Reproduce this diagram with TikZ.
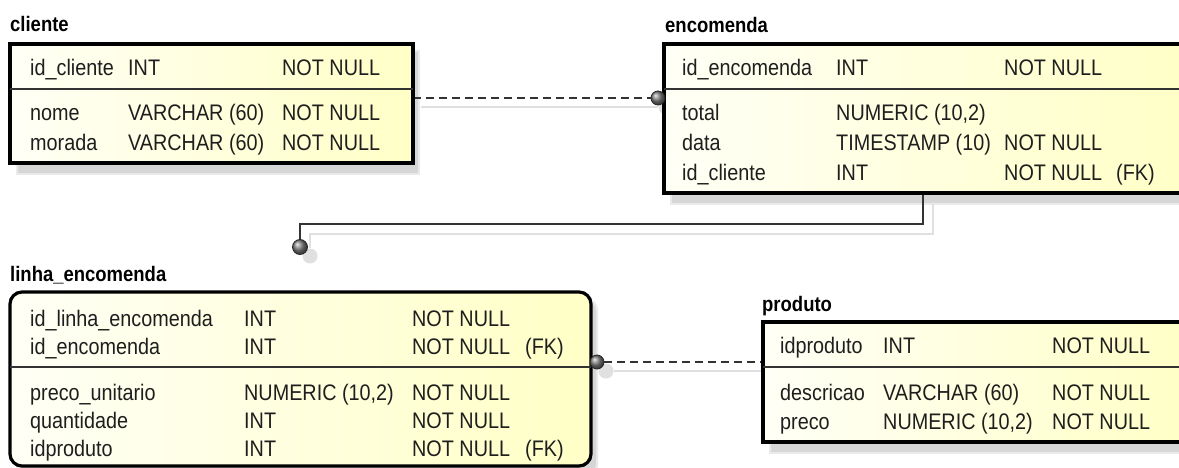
\documentclass[tikz,border=0pt]{standalone}
\usepackage{fontspec}
\setmainfont{Liberation Sans}[FakeStretch=0.88]
\definecolor{rowtext}{HTML}{1E1E1E}
\definecolor{paleleft}{HTML}{FFFFF6}
\definecolor{paleright}{HTML}{FFFFC6}
\definecolor{boxshade}{HTML}{D6D6D6}
\definecolor{boxshadeout}{HTML}{EAEAEA}
\definecolor{linkcol}{HTML}{333333}
\definecolor{linkshade}{HTML}{E0E0E0}
\pgfdeclarelayer{paper}
\pgfdeclarelayer{shadows}
\pgfdeclarelayer{links}
\pgfsetlayers{paper,shadows,links,main}
\begin{document}
\begin{tikzpicture}[x=1pt,y=-1pt,
  tablebox/.style={draw=black, line width=3.2pt, left color=paleleft, right color=paleright,
    anchor=north west, inner sep=0pt, outer sep=0pt},
  title/.style={anchor=base west, inner sep=0pt, font=\bfseries\fontsize{21}{25}\selectfont},
  cell/.style={anchor=base west, inner sep=0pt, text=rowtext, font=\fontsize{22.5}{26}\selectfont},
  divider/.style={draw=black!80, line width=1.6pt},
  joint/.style={circle, minimum size=14pt, inner sep=0pt, shading=ball, ball color=black!50,
    draw=black!85, line width=0.8pt},
  jointshade/.style={circle, minimum size=15pt, inner sep=0pt, fill=linkshade},
  link/.style={draw=linkcol, line width=1.8pt},
  optional/.style={link, dash pattern=on 8pt off 5pt},
  linkshadow/.style={draw=linkshade, line width=1.6pt}
]
\useasboundingbox (0,0) rectangle (1179,468);
\clip (0,0) rectangle (1179,468);
\begin{pgfonlayer}{paper}
  \fill[white] (0,0) rectangle (1179,468);
\end{pgfonlayer}

% ---- tables ----
\node[tablebox, minimum width=403pt, minimum height=119pt] (cliente) at (10,44) {};
\node[tablebox, minimum width=530pt, minimum height=149pt] (encomenda) at (664,44) {};
\node[tablebox, rounded corners=12pt, minimum width=581pt, minimum height=174pt] (linha) at (10,292) {};
\node[tablebox, minimum width=430pt, minimum height=120pt] (produto) at (763,322) {};

% soft drop shadows
\begin{pgfonlayer}{shadows}
  \foreach \t in {cliente,encomenda,produto}{
    \fill[boxshadeout] ([shift={(6,6)}]\t.north west) rectangle ([shift={(7,12)}]\t.south east);
    \fill[boxshade] ([shift={(8,8)}]\t.north west) rectangle ([shift={(5,10)}]\t.south east);
  }
  \fill[boxshadeout, rounded corners=12pt] ([shift={(6,6)}]linha.north west) rectangle ([shift={(7,12)}]linha.south east);
  \fill[boxshade, rounded corners=12pt] ([shift={(8,8)}]linha.north west) rectangle ([shift={(5,10)}]linha.south east);
\end{pgfonlayer}

% key / attribute dividers
\draw[divider] (cliente.west |- 0,89) -- (cliente.east |- 0,89);
\draw[divider] (encomenda.west |- 0,89) -- (encomenda.east |- 0,89);
\draw[divider] (linha.west |- 0,367) -- (linha.east |- 0,367);
\draw[divider] (produto.west |- 0,367) -- (produto.east |- 0,367);

% ---- titles ----
\node[title] (t-cliente) at (10,32) {cliente};
\node[title] (t-encomenda) at (665,33) {encomenda};
\node[title] (t-linha) at (10,281) {linha\_encomenda};
\node[title] (t-produto) at (762,311) {produto};

% ---- cliente ----
\node[cell] (cl-1a) at (30,76) {id\_cliente};
\node[cell] (cl-1b) at (128,76) {INT};
\node[cell] (cl-1c) at (282,76) {NOT NULL};
\node[cell] (cl-2a) at (30,121) {nome};
\node[cell] (cl-2b) at (128,121) {VARCHAR (60)};
\node[cell] (cl-2c) at (282,121) {NOT NULL};
\node[cell] (cl-3a) at (30,151) {morada};
\node[cell] (cl-3b) at (128,151) {VARCHAR (60)};
\node[cell] (cl-3c) at (282,151) {NOT NULL};

% ---- encomenda ----
\node[cell] (en-1a) at (682,76) {id\_encomenda};
\node[cell] (en-1b) at (836,76) {INT};
\node[cell] (en-1c) at (1004,76) {NOT NULL};
\node[cell] (en-2a) at (682,121) {total};
\node[cell] (en-2b) at (836,121) {NUMERIC (10,2)};
\node[cell] (en-3a) at (682,151) {data};
\node[cell] (en-3b) at (836,151) {TIMESTAMP (10)};
\node[cell] (en-3c) at (1004,151) {NOT NULL};
\node[cell] (en-4a) at (682,181) {id\_cliente};
\node[cell] (en-4b) at (836,181) {INT};
\node[cell] (en-4c) at (1004,181) {NOT NULL};
\node[cell] (en-4d) at (1116,181) {(FK)};

% ---- linha_encomenda ----
\node[cell] (li-1a) at (30,326) {id\_linha\_encomenda};
\node[cell] (li-1b) at (244,326) {INT};
\node[cell] (li-1c) at (412,326) {NOT NULL};
\node[cell] (li-2a) at (30,354) {id\_encomenda};
\node[cell] (li-2b) at (244,354) {INT};
\node[cell] (li-2c) at (412,354) {NOT NULL};
\node[cell] (li-2d) at (525,354) {(FK)};
\node[cell] (li-3a) at (30,400) {preco\_unitario};
\node[cell] (li-3b) at (244,400) {NUMERIC (10,2)};
\node[cell] (li-3c) at (412,400) {NOT NULL};
\node[cell] (li-4a) at (30,428) {quantidade};
\node[cell] (li-4b) at (244,428) {INT};
\node[cell] (li-4c) at (412,428) {NOT NULL};
\node[cell] (li-5a) at (30,456) {idproduto};
\node[cell] (li-5b) at (244,456) {INT};
\node[cell] (li-5c) at (412,456) {NOT NULL};
\node[cell] (li-5d) at (525,456) {(FK)};

% ---- produto ----
\node[cell] (pr-1a) at (780,353) {idproduto};
\node[cell] (pr-1b) at (883,353) {INT};
\node[cell] (pr-1c) at (1052,353) {NOT NULL};
\node[cell] (pr-2a) at (780,400) {descricao};
\node[cell] (pr-2b) at (883,400) {VARCHAR (60)};
\node[cell] (pr-2c) at (1052,400) {NOT NULL};
\node[cell] (pr-3a) at (780,429) {preco};
\node[cell] (pr-3b) at (883,429) {NUMERIC (10,2)};
\node[cell] (pr-3c) at (1052,429) {NOT NULL};

% ---- relationships ----
% cliente -- encomenda (non-identifying)
\begin{pgfonlayer}{shadows}
  \node[jointshade] (j1s) at (666,107) {};
  \draw[linkshadow] ([xshift=8pt]cliente.east |- j1s) -- (j1s);
\end{pgfonlayer}
\node[joint] (j1) at (658,98) {};
\begin{pgfonlayer}{links}
  \draw[optional] (cliente.east |- j1) -- (j1);
\end{pgfonlayer}

% encomenda -- linha_encomenda (identifying)
\coordinate (bend) at (923,224);
\coordinate (bendshade) at (933,234);
\begin{pgfonlayer}{shadows}
  \node[jointshade] (j2s) at (310,256) {};
  \draw[linkshadow] ([yshift=-9pt]encomenda.south -| bendshade) -- (bendshade) -- (bendshade -| j2s) -- (j2s);
\end{pgfonlayer}
\node[joint, minimum height=15pt] (j2) at (300,247) {};
\begin{pgfonlayer}{links}
  \draw[link] (encomenda.south -| bend) -- (bend) -- (bend -| j2) -- (j2);
\end{pgfonlayer}

% produto -- linha_encomenda (non-identifying)
\begin{pgfonlayer}{shadows}
  \node[jointshade] (j3s) at (606,371) {};
  \draw[linkshadow] (j3s) -- ([xshift=10pt]produto.west |- j3s);
\end{pgfonlayer}
\node[joint] (j3) at (597,362) {};
\begin{pgfonlayer}{links}
  \draw[optional] (j3) -- (produto.west |- j3);
\end{pgfonlayer}
\end{tikzpicture}
\end{document}
